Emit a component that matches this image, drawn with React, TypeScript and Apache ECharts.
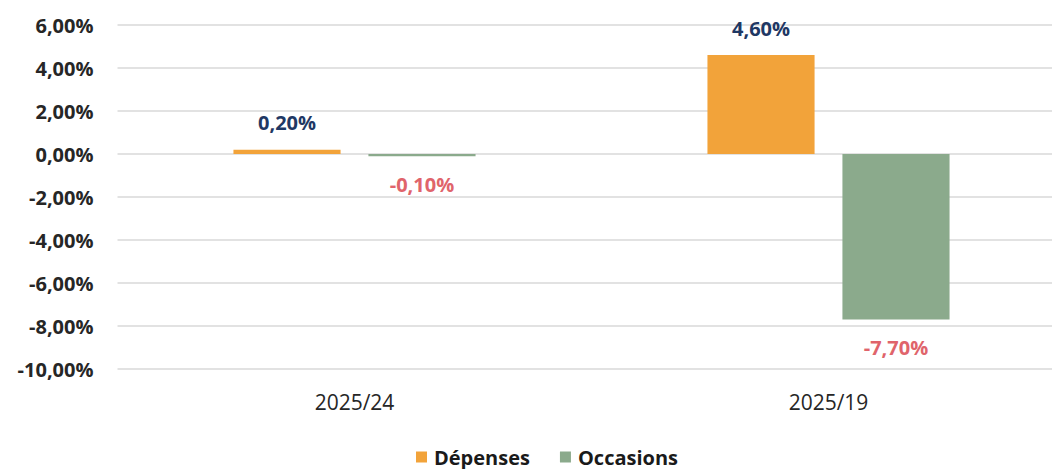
import React, { useEffect, useRef } from "react";
import * as echarts from "echarts";

const categories = ["2025/24", "2025/19"];
const depenses = [0.2, 4.6];
const occasions = [-0.1, -7.7];
const seriesNames = ["Dépenses", "Occasions"];
const yMin = -10;
const yMax = 6;
const yInterval = 2;

const FONT = "'Open Sans', Lato, sans-serif";
const POS_COLOR = "#1F3864";
const NEG_COLOR = "#E0646B";

const fmt = (v: number) => v.toFixed(2).replace(".", ",") + "%";

const toItems = (arr: number[]) =>
  arr.map((v) => ({
    value: v,
    label: {
      position: v >= 0 ? "top" : "bottom",
      color: v >= 0 ? POS_COLOR : NEG_COLOR,
      distance: v >= 0 ? 17 : 18,
    },
  }));

export default function App() {
  const ref = useRef<HTMLDivElement>(null);
  useEffect(() => {
    if (!ref.current) return;
    const chart = echarts.init(ref.current, undefined, { renderer: "svg" });
    const labelCommon = {
      show: true,
      fontFamily: FONT,
      fontWeight: "bold" as const,
      fontSize: 20,
      formatter: (p: any) => fmt(p.value),
    };
    chart.setOption({
      animation: false,
      backgroundColor: "#ffffff",
      grid: { left: 117.5, right: 14.5, top: 25, bottom: 100 },
      legend: {
        data: seriesNames,
        left: 416,
        top: 447,
        padding: 0,
        icon: "rect",
        itemWidth: 11,
        itemHeight: 11,
        itemGap: 30,
        textStyle: {
          fontFamily: FONT,
          fontWeight: "bold",
          fontSize: 20,
          lineHeight: 20,
          color: "#1a1a1a",
          padding: [0, 0, 0, 2],
        },
      },
      xAxis: {
        type: "category",
        data: categories,
        axisLine: { show: false, onZero: false },
        axisTick: { show: false },
        axisLabel: { margin: 22, fontFamily: FONT, fontSize: 21, color: "#262626" },
      },
      yAxis: {
        type: "value",
        min: yMin,
        max: yMax,
        interval: yInterval,
        axisLine: { show: false },
        axisTick: { show: false },
        splitLine: { lineStyle: { color: "#d9d9d9", width: 1.5 } },
        axisLabel: {
          margin: 24,
          fontFamily: FONT,
          fontWeight: "bold",
          fontSize: 20,
          color: "#262626",
          formatter: (v: number) => fmt(v),
        },
      },
      series: [
        {
          name: seriesNames[0],
          type: "bar",
          data: toItems(depenses),
          itemStyle: { color: "#F2A33A" },
          barWidth: "22.6%",
          barGap: "26%",
          label: labelCommon,
        },
        {
          name: seriesNames[1],
          type: "bar",
          data: toItems(occasions),
          itemStyle: { color: "#8BAA8C" },
          barWidth: "22.6%",
          barGap: "26%",
          label: labelCommon,
        },
      ],
    });
    return () => chart.dispose();
  }, []);
  return (
    <div style={{ position: "fixed", left: 0, top: 0, width: 1052, height: 469, overflow: "hidden", background: "#fff" }}>
      <div ref={ref} style={{ width: 1080, height: 469 }} />
    </div>
  );
}
